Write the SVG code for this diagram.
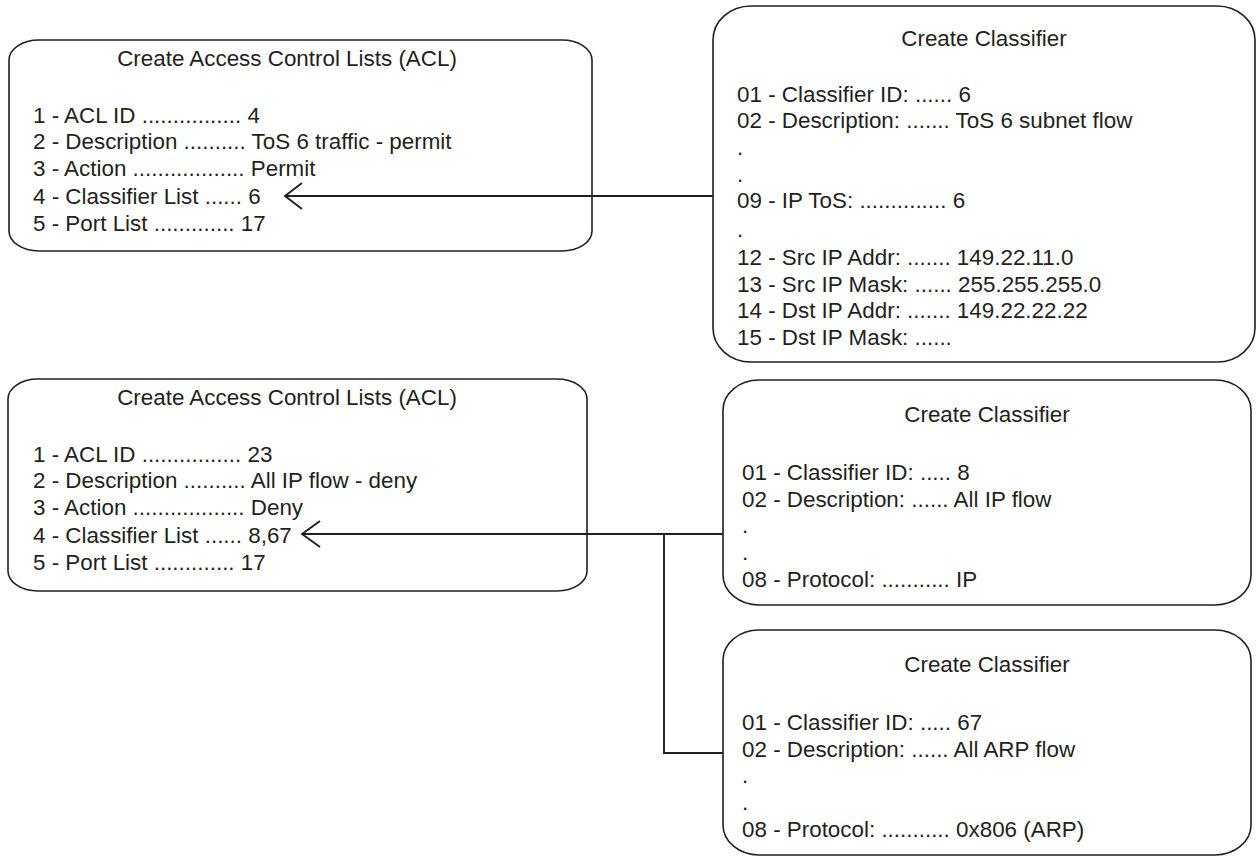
<svg xmlns="http://www.w3.org/2000/svg" width="1257" height="862" viewBox="0 0 1257 862">
<style>
.bg{fill:#ffffff}
.box{fill:#ffffff;stroke:#231f20;stroke-width:1.6}
.t{font-family:"Liberation Sans",Arial,Helvetica,sans-serif;font-size:22.4px;fill:#231f20}
.c{text-anchor:middle}
.ln{fill:none;stroke:#231f20;stroke-width:1.9}
</style>
<rect class="bg" x="0" y="0" width="1257" height="862"/>
<g id="acl1">
<rect class="box" x="9" y="40" width="583" height="211" rx="30" ry="20"/>
<text class="t c" x="287" y="66">Create Access Control Lists (ACL)</text>
<text class="t" x="33" y="123">1 - ACL ID ................ 4</text>
<text class="t" x="33" y="149">2 - Description .......... ToS 6 traffic - permit</text>
<text class="t" x="33" y="176">3 - Action .................. Permit</text>
<text class="t" x="33" y="204">4 - Classifier List ...... 6</text>
<text class="t" x="33" y="231">5 - Port List ............. 17</text>
</g>
<g id="classifier6">
<rect class="box" x="713" y="6" width="542" height="356" rx="38" ry="34"/>
<text class="t c" x="984" y="46">Create Classifier</text>
<text class="t" x="737" y="102">01 - Classifier ID: ...... 6</text>
<text class="t" x="737" y="128">02 - Description: ....... ToS 6 subnet flow</text>
<text class="t" x="737" y="155">.</text>
<text class="t" x="737" y="182">.</text>
<text class="t" x="737" y="208">09 - IP ToS: .............. 6</text>
<text class="t" x="737" y="237">.</text>
<text class="t" x="737" y="265">12 - Src IP Addr: ....... 149.22.11.0</text>
<text class="t" x="737" y="292">13 - Src IP Mask: ...... 255.255.255.0</text>
<text class="t" x="737" y="318">14 - Dst IP Addr: ....... 149.22.22.22</text>
<text class="t" x="737" y="345">15 - Dst IP Mask: ......</text>
</g>
<g id="acl2">
<rect class="box" x="8" y="379" width="579" height="212" rx="30" ry="20"/>
<text class="t c" x="287" y="405">Create Access Control Lists (ACL)</text>
<text class="t" x="33" y="462">1 - ACL ID ................ 23</text>
<text class="t" x="33" y="488">2 - Description .......... All IP flow - deny</text>
<text class="t" x="33" y="515">3 - Action .................. Deny</text>
<text class="t" x="33" y="543">4 - Classifier List ...... 8,67</text>
<text class="t" x="33" y="570">5 - Port List ............. 17</text>
</g>
<g id="classifier8">
<rect class="box" x="723" y="380" width="528" height="225" rx="36" ry="30"/>
<text class="t c" x="987" y="422">Create Classifier</text>
<text class="t" x="742" y="480">01 - Classifier ID: ..... 8</text>
<text class="t" x="742" y="507">02 - Description: ...... All IP flow</text>
<text class="t" x="742" y="533">.</text>
<text class="t" x="742" y="560">.</text>
<text class="t" x="742" y="587">08 - Protocol: ........... IP</text>
</g>
<g id="classifier67">
<rect class="box" x="723" y="630" width="528" height="225" rx="36" ry="30"/>
<text class="t c" x="987" y="672">Create Classifier</text>
<text class="t" x="742" y="730">01 - Classifier ID: ..... 67</text>
<text class="t" x="742" y="757">02 - Description: ...... All ARP flow</text>
<text class="t" x="742" y="783">.</text>
<text class="t" x="742" y="810">.</text>
<text class="t" x="742" y="837">08 - Protocol: ........... 0x806 (ARP)</text>
</g>
<g id="connectors">
<line class="ln" x1="713" y1="196" x2="286" y2="196"/>
<path class="ln" d="M302,183 L285,196 L302,209"/>
<line class="ln" x1="723" y1="534" x2="303" y2="534"/>
<path class="ln" d="M320,521 L302,534 L320,547"/>
<polyline class="ln" points="664,534 664,753 723,753"/>
</g>
</svg>
